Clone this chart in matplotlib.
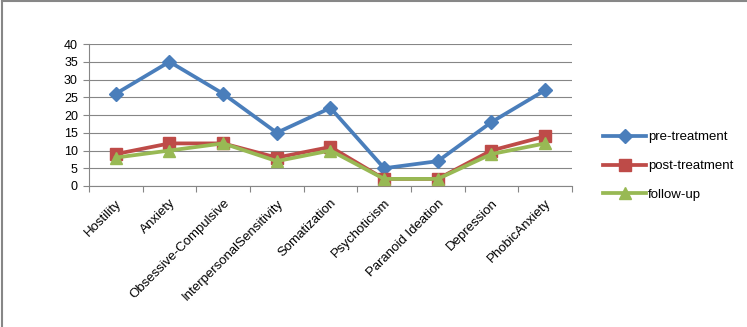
import matplotlib.pyplot as plt
from matplotlib.lines import Line2D
import numpy as np

categories = ["Hostility", "Anxiety", "Obsessive-Compulsive", "InterpersonalSensitivity",
              "Somatization", "Psychoticism", "Paranoid Ideation", "Depression", "PhobicAnxiety"]
pre_treatment = [26, 35, 26, 15, 22, 5, 7, 18, 27]
post_treatment = [9, 12, 12, 8, 11, 2, 2, 10, 14]
follow_up = [8, 10, 12, 7, 10, 2, 2, 9, 12]

plt.rcParams['font.family'] = ['Liberation Sans', 'DejaVu Sans']

fig = plt.figure(figsize=(7.47, 3.27), dpi=100)
ax = fig.add_axes([0.1191, 0.4312, 0.6466, 0.4342])

x = np.arange(len(categories))
blue, red, green = "#4a7ebb", "#be4b48", "#98b954"
ax.plot(x, pre_treatment, color=blue, lw=2.7, marker="D", ms=7, label="pre-treatment", zorder=3)
ax.plot(x, post_treatment, color=red, lw=2.7, marker="s", ms=8, label="post-treatment", zorder=4)
ax.plot(x, follow_up, color=green, lw=2.7, marker="^", ms=8.5, label="follow-up", zorder=5)

ax.set_xlim(-0.5, len(categories) - 0.5)
ax.set_ylim(0, 40)
ax.set_yticks(range(0, 41, 5))
ax.yaxis.grid(True, color="#868686", lw=0.8)
ax.set_axisbelow(True)

# ticks between categories, labels at categories
ax.set_xticks(np.arange(-0.5, len(categories), 1))
ax.set_xticklabels([])
ax.set_xticks(x, minor=True)
ax.set_xticklabels(categories, minor=True, rotation=45, ha="right", rotation_mode="anchor", fontsize=9.5)
ax.tick_params(axis="x", which="minor", length=0, pad=8)
ax.tick_params(axis="x", which="major", length=4, color="#868686")
ax.tick_params(axis="y", length=4, color="#868686", labelsize=9, pad=4)

for s in ["top", "right"]:
    ax.spines[s].set_visible(False)
ax.spines["left"].set_color("#868686")
ax.spines["bottom"].set_color("#868686")

leg = fig.legend(loc="upper left", bbox_to_anchor=(0.792, 0.635), frameon=False,
                 fontsize=9.5, handlelength=3.2, handletextpad=0.15, labelspacing=1.25)

# chart border
fig.add_artist(Line2D([0.003, 0.003], [0, 1], color="#878787", lw=1.5))
fig.add_artist(Line2D([0.003, 1], [0.997, 0.997], color="#878787", lw=1.5))

fig.savefig("out.png", dpi=100)
